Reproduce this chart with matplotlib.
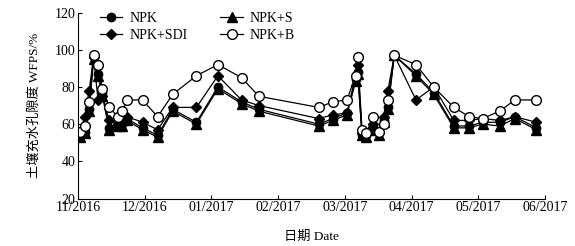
import calendar
import matplotlib
matplotlib.use("Agg")
import matplotlib.pyplot as plt

# sampling dates and WFPS (%)
dates = ["2016-11-02", "2016-11-04", "2016-11-06", "2016-11-08", "2016-11-10",
         "2016-11-12", "2016-11-15", "2016-11-19", "2016-11-21", "2016-11-23",
         "2016-11-30", "2016-12-07", "2016-12-14", "2016-12-25", "2017-01-04",
         "2017-01-15", "2017-01-23", "2017-02-18", "2017-02-24", "2017-03-02",
         "2017-03-06", "2017-03-07", "2017-03-09", "2017-03-11", "2017-03-14",
         "2017-03-17", "2017-03-19", "2017-03-21", "2017-03-24", "2017-04-03",
         "2017-04-11", "2017-04-20", "2017-04-27", "2017-05-03", "2017-05-11",
         "2017-05-18", "2017-05-28"]

npk = [53, 56, 68, 96, 87, 77, 58, 60, 60, 63, 58, 54, 68, 61, 80, 72, 68,
       60, 63, 66, 84, 88, 54, 54, 58, 55, 62, 69, 97, 87, 77, 59, 59, 61, 61,
       64, 58]
npk_s = [53, 55, 67, 95, 86, 75, 57, 59, 59, 62, 57, 53, 67, 60, 79, 71, 67,
         59, 62, 65, 83, 87, 54, 53, 57, 54, 61, 68, 97, 86, 76, 58, 58, 60,
         59, 63, 57]
npk_sdi = [55, 64, 78, 96, 73, 75, 62, 60, 61, 64, 61, 57, 69, 69, 86, 73,
           70, 63, 65, 66, 86, 92, 55, 55, 60, 56, 64, 78, 97, 73, 80, 62, 62,
           63, 62, 64, 61]
npk_b = [56, 59, 72, 97, 92, 79, 69, 64, 67, 73, 73, 64, 76, 86, 92, 85, 75,
         69, 72, 73, 86, 96, 57, 55, 64, 56, 60, 73, 97, 92, 80, 69, 64, 63,
         67, 73, 73]

month_labels = ["11/2016", "12/2016", "01/2017", "02/2017", "03/2017",
                "04/2017", "05/2017", "06/2017"]


def month_pos(s):
    # position on a month-uniform axis (0 = 1 Nov 2016)
    y, m, d = map(int, s.split("-"))
    idx = (y - 2016) * 12 + m - 11
    return idx + (d - 1) / calendar.monthrange(y, m)[1]


x = [month_pos(d) for d in dates]

plt.rcParams["font.family"] = ["Liberation Serif", "Noto Sans CJK SC"]

fig = plt.figure(figsize=(5.75, 2.46), dpi=100)
ax = fig.add_axes([0.1357, 0.193, 0.812, 0.756])

lw = 0.9
ax.plot(x, npk, "-o", color="black", lw=lw, ms=6, label="NPK")
ax.plot(x, npk_s, "-^", color="black", lw=lw, ms=6.5, label="NPK+S")
ax.plot(x, npk_sdi, "-D", color="black", lw=lw, ms=4.8, label="NPK+SDI")
ax.plot(x, npk_b, "-o", color="black", mfc="white", lw=lw, ms=7,
        label="NPK+B")

ax.set_xlim(0, 7)
ax.set_ylim(20, 120)
ax.set_xticks(range(8))
ax.set_xticklabels(month_labels)
ax.set_yticks(range(20, 121, 20))
ax.tick_params(direction="in", labelsize=10, length=3, width=0.8, pad=2)
ax.spines["top"].set_visible(False)
ax.spines["right"].set_visible(False)
for s in ("left", "bottom"):
    ax.spines[s].set_linewidth(0.8)

ax.set_ylabel("土壤充水孔隙度 WFPS/%", fontsize=9.5, labelpad=10)
ax.set_xlabel("日期 Date", fontsize=9.5, labelpad=12)

h, l = ax.get_legend_handles_labels()
order = [0, 2, 1, 3]
ax.legend([h[i] for i in order], [l[i] for i in order], ncol=2,
          loc="upper left", bbox_to_anchor=(0.02, 1.07), frameon=False,
          fontsize=10, handlelength=1.6, columnspacing=2.4,
          labelspacing=0.3, handletextpad=0.5)

fig.savefig("out.png", dpi=100)
